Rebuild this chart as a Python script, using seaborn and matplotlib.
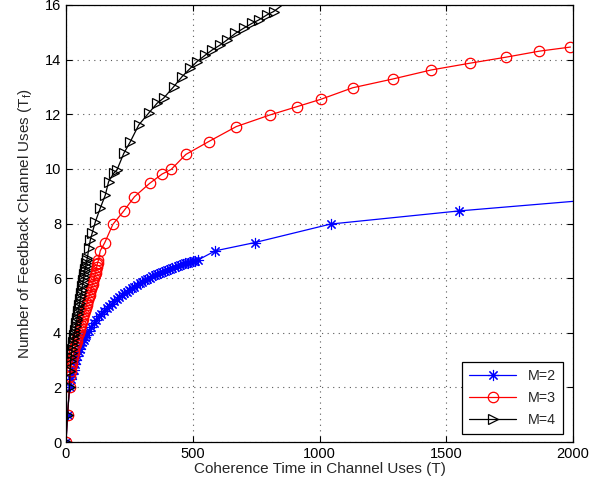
import matplotlib
matplotlib.use("Agg")
import matplotlib.pyplot as plt
import seaborn as sns

# values (T, T_f)
m2_T = [0, 6, 14, 20, 25, 30, 35, 40, 45, 50, 55, 60, 65, 70, 75, 80, 90,
        100, 110, 120, 130, 140, 150, 160, 170, 180, 190, 200, 210, 220, 230,
        240, 250, 260, 270, 280, 290, 300, 310, 320, 330, 340, 350, 360, 370,
        380, 390, 400, 410, 420, 430, 440, 450, 460, 470, 480, 490, 500, 510,
        520,
        589, 744, 1044, 1550, 2218]
m2_Tf = [0, 1.0, 2.0, 2.3, 2.5, 2.65, 2.85, 3.0, 3.15, 3.3, 3.42, 3.55, 3.65,
         3.75, 3.85, 3.93, 4.08, 4.22, 4.36, 4.48, 4.6, 4.7, 4.8, 4.9, 4.99,
         5.07, 5.15, 5.22, 5.3, 5.37, 5.44, 5.51, 5.57, 5.63, 5.69, 5.75,
         5.81, 5.87, 5.92, 5.97, 6.02, 6.07, 6.11, 6.15, 6.19, 6.23, 6.27,
         6.31, 6.35, 6.38, 6.42, 6.45, 6.48, 6.51, 6.54, 6.57, 6.59, 6.62,
         6.64, 6.66,
         7.0, 7.3, 7.98, 8.46, 8.98]

m3_T = [0, 6, 14, 16, 18, 20, 22, 24, 27, 30, 33, 36, 39, 42, 45, 48, 51, 54,
        57, 60, 63, 66, 69, 72, 75, 78, 81, 84, 87, 90, 93, 96, 99, 102, 105,
        108, 111, 114, 117, 119, 121, 123, 125, 128,
        135, 153, 185, 228, 270, 330, 379, 415, 473, 563, 672, 803, 912, 1006,
        1131, 1289, 1440, 1594, 1736, 1867, 1990]
m3_Tf = [0, 1.0, 2.0, 2.4, 2.6, 2.75, 2.85, 2.95, 3.1, 3.25, 3.38, 3.5, 3.6,
         3.7, 3.8, 3.9, 4.0, 4.1, 4.2, 4.3, 4.4, 4.5, 4.6, 4.7, 4.8, 4.9, 5.0,
         5.1, 5.2, 5.3, 5.4, 5.5, 5.6, 5.7, 5.8, 5.9, 6.0, 6.1, 6.2, 6.3, 6.4,
         6.5, 6.57, 6.66,
         7.0, 7.3, 7.97, 8.46, 8.98, 9.47, 9.81, 9.98, 10.53, 11.0, 11.55,
         11.97, 12.28, 12.55, 12.97, 13.29, 13.62, 13.87, 14.09, 14.31, 14.46]

m4_T = [0, 6, 14, 16, 18, 20, 22, 24, 26, 28, 30, 32, 34, 36, 38, 40, 42, 44,
        46, 48, 50, 52, 54, 56, 58, 60, 62, 64, 66, 68, 70, 72, 74, 76, 78,
        80, 82, 84,
        90, 96, 103, 116, 135, 155, 168, 188, 201, 228, 254, 287, 326, 359,
        385, 425, 458, 490, 517, 550, 576, 609, 635, 668, 701, 734, 760, 793,
        819, 905]
m4_Tf = [0, 1.0, 2.0, 2.6, 2.95, 3.1, 3.25, 3.4, 3.55, 3.65, 3.8, 3.9, 4.0,
         4.1, 4.25, 4.35, 4.45, 4.55, 4.7, 4.8, 4.9, 5.0, 5.1, 5.25, 5.35,
         5.45, 5.55, 5.7, 5.8, 5.93, 6.05, 6.15, 6.25, 6.35, 6.45, 6.55, 6.65,
         6.73,
         7.09, 7.4, 7.64, 8.07, 8.56, 9.04, 9.53, 9.84, 9.96, 10.57, 11.0,
         11.61, 12.04, 12.4, 12.59, 13.01, 13.38, 13.68, 13.93, 14.17, 14.35,
         14.54, 14.72, 14.96, 15.15, 15.33, 15.45, 15.64, 15.76, 16.35]

labels = ["M=2", "M=3", "M=4"]
x_ticks = [0, 500, 1000, 1500, 2000]
y_ticks = [0, 2, 4, 6, 8, 10, 12, 14, 16]

sns.set_style("ticks", {"xtick.direction": "in", "ytick.direction": "in"})
plt.rcParams["font.family"] = ["Liberation Sans", "DejaVu Sans"]
plt.rcParams["font.size"] = 10

fig = plt.figure(figsize=(6.07, 4.92), dpi=100)
ax = fig.add_axes([66 / 607, 1 - 442 / 492, 507 / 607, 437 / 492])

# matlab style asterisk: 8 spokes
sns.lineplot(x=m2_T, y=m2_Tf, ax=ax, color="blue", marker=(8, 2, 0),
             markersize=8, markeredgecolor="blue", markeredgewidth=0.8,
             lw=0.9, estimator=None, label=labels[0])
sns.lineplot(x=m3_T, y=m3_Tf, ax=ax, color="red", marker="o", markersize=7.5,
             markerfacecolor="none", markeredgecolor="red", markeredgewidth=0.9,
             lw=0.9, estimator=None, label=labels[1])
sns.lineplot(x=m4_T, y=m4_Tf, ax=ax, color="black", marker=">", markersize=7.5,
             markerfacecolor="none", markeredgecolor="black", markeredgewidth=0.9,
             lw=0.9, estimator=None, label=labels[2])

ax.set_xlim(0, 2000)
ax.set_ylim(0, 16)
ax.set_xticks(x_ticks)
ax.set_yticks(y_ticks)
ax.grid(True, linestyle=(0, (1, 4)), color="0.35", linewidth=0.8)
ax.tick_params(top=True, right=True, length=4, width=0.8, labelsize=10.5,
               colors="black")
for s in ax.spines.values():
    s.set_visible(True)
    s.set_color("black")
    s.set_linewidth(0.9)

ax.set_xlabel("Coherence Time in Channel Uses (T)", fontsize=11, labelpad=1)
ax.set_ylabel(r"Number of Feedback Channel Uses (T$_\mathregular{f}$)",
              fontsize=11, labelpad=8)

leg = ax.legend(loc="lower right", fontsize=10.3, frameon=True, fancybox=False,
                framealpha=1, edgecolor="black", borderpad=0.5,
                labelspacing=0.55, handlelength=3.3, borderaxespad=0,
                bbox_to_anchor=(0.980, 0.018))
leg.get_frame().set_linewidth(0.9)

fig.savefig("out.png", dpi=100)
